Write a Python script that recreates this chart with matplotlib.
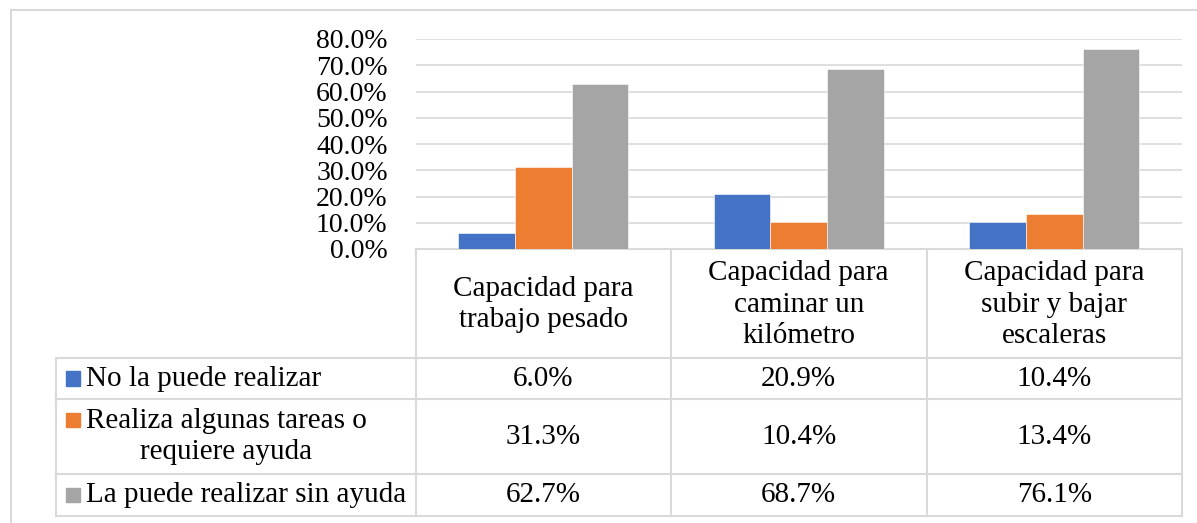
import numpy as np
import matplotlib
matplotlib.use("Agg")
import matplotlib.pyplot as plt
from matplotlib.patches import Rectangle

plt.rcParams['font.family'] = ['Liberation Serif', 'DejaVu Serif']

categories = ["Capacidad para\ntrabajo pesado",
              "Capacidad para\ncaminar un\nkilómetro",
              "Capacidad para\nsubir y bajar\nescaleras"]
series_names = ["No la puede realizar",
                "Realiza algunas tareas o\nrequiere ayuda",
                "La puede realizar sin ayuda"]
no_puede = [6.0, 20.9, 10.4]
algunas_tareas = [31.3, 10.4, 13.4]
sin_ayuda = [62.7, 68.7, 76.1]
y_ticks = [0, 10, 20, 30, 40, 50, 60, 70, 80]

series_values = [no_puede, algunas_tareas, sin_ayuda]
colors = ['#4472C4', '#ED7D31', '#A5A5A5']
line_col = '#D9D9D9'

W, H = 1197, 523
fig = plt.figure(figsize=(W / 100, H / 100), dpi=100)

# pixel layout
px_left, px_right = 415.5, 1182
px_top, px_base = 39, 249
row_lines = [358, 399, 474, 516]
leg_left = 56

# overlay in pixel coordinates for frame + data table
ov = fig.add_axes([0, 0, 1, 1])
ov.set_xlim(0, W)
ov.set_ylim(H, 0)
ov.axis('off')

# bar axes
ax = fig.add_axes([px_left / W, (H - px_base) / H,
                   (px_right - px_left) / W, (px_base - px_top) / H])
ax.set_facecolor('none')
x = np.arange(len(categories))
bw = 0.222
for i, (vals, c) in enumerate(zip(series_values, colors)):
    ax.bar(x + (i - 1) * bw, vals, bw, color=c, edgecolor='white',
           linewidth=0.4, zorder=3)
ax.set_xlim(-0.5, len(categories) - 0.5)
ax.set_ylim(0, 80)
ax.set_yticks(y_ticks)
ax.set_yticklabels([f"{t:.1f}%" for t in y_ticks], fontsize=20)
ax.set_xticks([])
ax.tick_params(axis='y', length=0, pad=20)
ax.grid(axis='y', color=line_col, linewidth=1.2, zorder=0)
for s in ax.spines.values():
    s.set_visible(False)

# outer frame
ov.plot([11, W], [10, 10], color=line_col, lw=1.5)
ov.plot([11, 11], [10, H], color=line_col, lw=1.5)

# table lines
col_w = (px_right - px_left) / len(categories)
col_edges = [px_left + k * col_w for k in range(len(categories) + 1)]
ov.plot([px_left, px_right], [px_base, px_base], color=line_col, lw=1.5)
for y in row_lines:
    ov.plot([leg_left, px_right], [y, y], color=line_col, lw=1.5)
for xe in col_edges:
    ov.plot([xe, xe], [px_base, row_lines[-1]], color=line_col, lw=1.5)
ov.plot([leg_left, leg_left], [row_lines[0], row_lines[-1]], color=line_col, lw=1.5)

# header
for k, cat in enumerate(categories):
    cx = (col_edges[k] + col_edges[k + 1]) / 2
    ov.text(cx, (px_base + row_lines[0]) / 2 + 1, cat, ha='center', va='center',
            fontsize=21, linespacing=1.27)

# rows
for r, (name, vals, c) in enumerate(zip(series_names, series_values, colors)):
    y0, y1 = row_lines[r], row_lines[r + 1]
    cy = (y0 + y1) / 2
    nlines = name.count('\n') + 1
    first_y = cy - (nlines - 1) * 16.2
    ov.add_patch(Rectangle((65.5, first_y - 7.5), 14.5, 14.5, color=c))
    ov.text(86, cy, name, ha='left', va='center', fontsize=21,
            multialignment='center', linespacing=1.25)
    for k, v in enumerate(vals):
        cx = (col_edges[k] + col_edges[k + 1]) / 2
        ov.text(cx, cy, f"{v:.1f}%", ha='center', va='center', fontsize=21)

fig.savefig("out.png", dpi=100)
